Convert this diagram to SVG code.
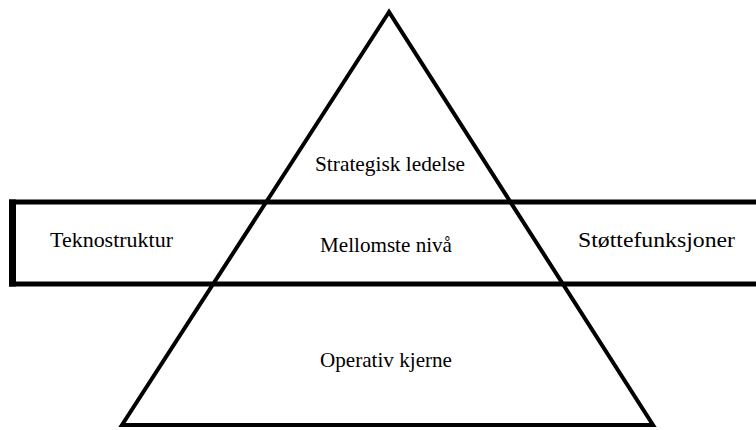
<svg xmlns="http://www.w3.org/2000/svg" width="756" height="430" viewBox="0 0 756 430">
<style>
text{font-family:"Liberation Serif","Times New Roman",serif;font-size:21px;fill:#000}
.s{fill:none;stroke:#000;stroke-linejoin:miter}
</style>
<rect width="756" height="430" fill="#fff"/>
<g id="connectors"></g>
<g id="pyramid">
<polygon class="s" stroke-width="4" points="389,12 122,425 653,425"/>
</g>
<g id="band">
<line class="s" x1="9" y1="202" x2="760" y2="202" stroke-width="5"/>
<line class="s" x1="9" y1="284" x2="760" y2="284" stroke-width="5"/>
<line class="s" x1="12.5" y1="199.5" x2="12.5" y2="286.5" stroke-width="7"/>
</g>
<g id="strategisk"><text x="315" y="171" textLength="150" lengthAdjust="spacingAndGlyphs">Strategisk ledelse</text></g>
<g id="mellomste"><text x="320" y="252" textLength="132" lengthAdjust="spacingAndGlyphs">Mellomste nivå</text></g>
<g id="tekno"><text x="50" y="247" textLength="123" lengthAdjust="spacingAndGlyphs">Teknostruktur</text></g>
<g id="stotte"><text x="578" y="247" textLength="157" lengthAdjust="spacingAndGlyphs">Støttefunksjoner</text></g>
<g id="operativ"><text x="320" y="367" textLength="132" lengthAdjust="spacingAndGlyphs">Operativ kjerne</text></g>
</svg>
